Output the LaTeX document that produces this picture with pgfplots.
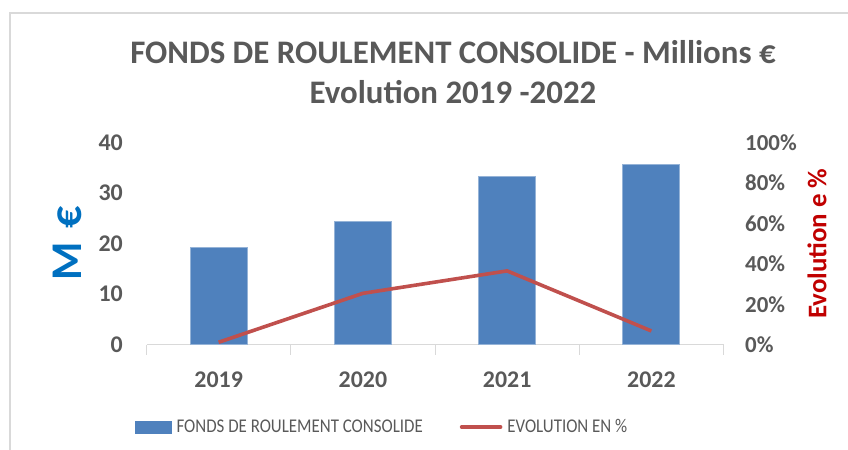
\documentclass[border=0pt]{standalone}
\usepackage{pgfplots}
\pgfplotsset{compat=1.18}
\usepackage{fontspec}
\setmainfont{Carlito}
\newfontfamily\legendfont[FakeStretch=0.87]{Carlito}
\definecolor{bluebar}{HTML}{4F81BD}
\definecolor{redline}{HTML}{C0504D}
\definecolor{txtgrey}{HTML}{595959}
\definecolor{axgrey}{HTML}{D9D9D9}
\definecolor{mblue}{HTML}{0070C0}
\definecolor{ered}{HTML}{C00000}
\begin{document}
\begin{tikzpicture}
\path[use as bounding box] (0,0) rectangle (848bp,450bp);
\draw[axgrey, line width=2bp] (10bp,0) -- (10bp,437bp) -- (848bp,437bp);
\node[anchor=base, font=\fontsize{33}{40}\selectfont\bfseries, text=txtgrey, inner sep=0pt] at (453bp,386bp) {FONDS DE ROULEMENT CONSOLIDE - Millions €};
\node[anchor=base, font=\fontsize{33}{40}\selectfont\bfseries, text=txtgrey, inner sep=0pt] at (453bp,346bp) {Evolution 2019 -2022};

\begin{axis}[
  at={(146.5bp,105.3bp)}, anchor=south west,
  scale only axis, width=577bp, height=202.2bp,
  xmin=-0.5, xmax=3.5, ymin=0, ymax=40,
  axis x line*=bottom, axis y line*=left,
  x axis line style={draw=axgrey, line width=1bp, -},
  y axis line style={draw=none, -},
  xtick={0,1,2,3}, xticklabels={2019,2020,2021,2022},
  minor xtick={-0.5,0.5,1.5,2.5,3.5},
  major tick length=0pt, minor tick length=10bp, tick align=outside,
  major x tick style={draw=none},
  minor x tick style={draw=axgrey, line width=1bp},
  ytick={0,10,20,30,40}, ytick style={draw=none},
  /pgf/number format/assume math mode=true,
  xticklabel style={font=\fontsize{24}{28}\selectfont\bfseries, text=txtgrey, inner sep=0pt, anchor=north, yshift=-27bp},
  yticklabel style={font=\fontsize{24}{28}\selectfont\bfseries, text=txtgrey, inner sep=0pt, anchor=east, xshift=-23.5bp},
  ylabel={M\hspace{0.3em}€},
  ylabel style={at={(axis description cs:-0.1378,0.5)}, anchor=center, text=mblue, font=\fontsize{44}{48}\selectfont\bfseries},
]
\addplot[ybar, bar width=57bp, fill=bluebar, draw=bluebar!60!white, line width=0.8bp] coordinates {(0,19.3) (1,24.3) (2,33.3) (3,35.6)};
\end{axis}

\begin{axis}[
  at={(146.5bp,105.3bp)}, anchor=south west,
  scale only axis, width=577bp, height=202.2bp,
  xmin=-0.5, xmax=3.5, ymin=0, ymax=100,
  axis y line*=right, axis x line=none, xtick=\empty,
  y axis line style={draw=none, -},
  ytick={0,20,40,60,80,100}, ytick style={draw=none},
  major tick length=0pt,
  /pgf/number format/assume math mode=true,
  yticklabel={\pgfmathprintnumber{\tick}\%},
  yticklabel style={font=\fontsize{23}{28}\selectfont\bfseries, text=txtgrey, inner sep=0pt, anchor=west, xshift=21.5bp},
  ylabel={Evolution e \%},
  ylabel style={at={(axis description cs:1.162,0.5)}, anchor=center, text=ered, font=\fontsize{27}{30}\selectfont\bfseries},
  legend columns=2, legend cell align=left,
  legend style={at={(axis description cs:-0.0199,-0.407)}, anchor=west, draw=none, fill=none, inner sep=0pt,
    font=\legendfont\fontsize{19.5}{22}\selectfont, text=txtgrey, nodes={inner sep=0pt},
    /tikz/every even column/.append style={column sep=37bp},
    /tikz/every odd column/.append style={column sep=5bp}},
]
\addlegendimage{legend image code/.code={\fill[bluebar] (0,-6bp) rectangle (36bp,6bp);}}
\addlegendentry{FONDS DE ROULEMENT CONSOLIDE}
\addplot[redline, line width=3.6bp, line join=round, legend image code/.code={\draw[redline, line width=3.6bp, line cap=round] (0,0) -- (39bp,0);}] coordinates {(0,1.2) (1,25.4) (2,36.5) (3,6.8)};
\addlegendentry{EVOLUTION EN \%}
\end{axis}
\end{tikzpicture}
\end{document}
